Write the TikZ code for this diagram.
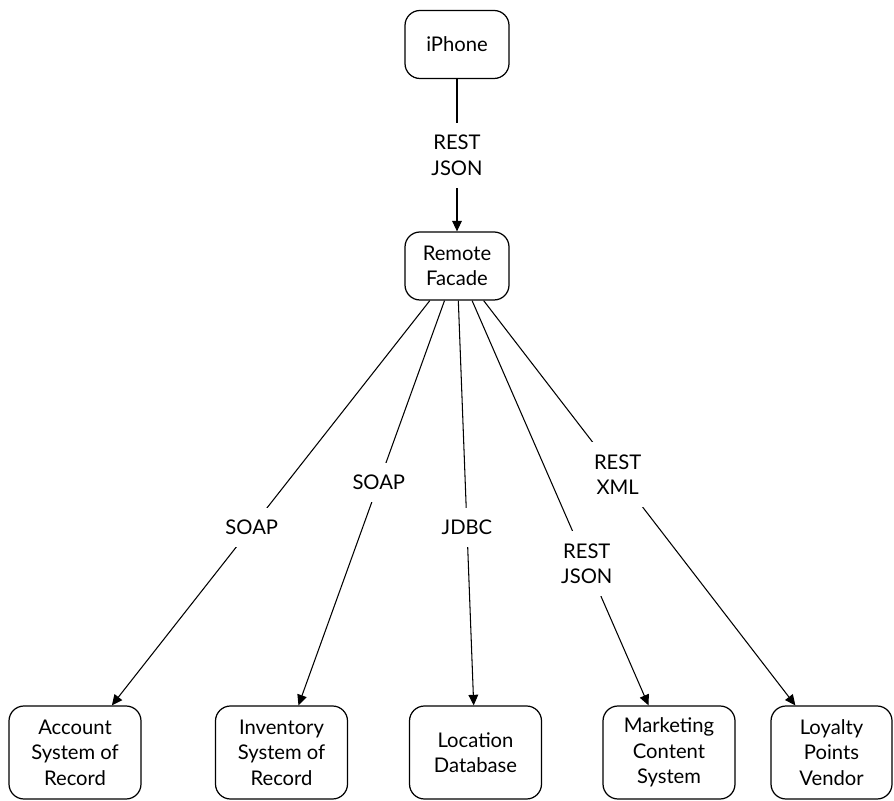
\documentclass[tikz,border=0pt]{standalone}
\usepackage{fontspec}
\setmainfont{Lato}
\usepackage{tikz}
\usetikzlibrary{shapes,arrows,positioning,calc,arrows.meta}

\tikzset{
    sysbox/.style={draw, line width=0.7pt, rounded corners=0.3cm, align=center,
        inner sep=0pt, minimum width=2.64cm, minimum height=1.86cm},
    topbox/.style={sysbox, minimum width=2.08cm, minimum height=1.36cm},
    proto/.style={fill=white, inner xsep=2pt, inner ysep=7pt, align=center},
    link/.style={line width=0.6pt, -{Triangle[length=6pt, width=5.5pt]}}
}

\begin{document}
\begin{tikzpicture}[scale=1.0, font=\fontsize{11.5}{14.5}\selectfont]
    \useasboundingbox (0,0) rectangle (17.88,16);

    % Client and facade
    \node[topbox] (iphone) at (9.14,15.11) {iPhone};
    \node[topbox] (facade) at (9.14,10.68) {Remote\\Facade};

    % Back-end systems
    \node[sysbox] (account) at (1.50,0.95) {Account\\System of\\Record};
    \node[sysbox] (inventory) at (5.63,0.95) {Inventory\\System of\\Record};
    \node[sysbox] (location) at (9.51,0.95) {Location\\Database};
    \node[sysbox] (marketing) at (13.38,0.95) {Marketing\\Content\\System};
    \node[sysbox, minimum width=2.42cm] (loyalty) at (16.63,0.95) {Loyalty\\Points\\Vendor};

    % Connections
    \draw[link] (iphone) -- node[proto] {REST\\JSON} (facade);
    \draw[link] (facade) -- node[proto, pos=0.56] {SOAP} (account);
    \draw[link] (facade) -- node[proto, pos=0.45] {SOAP} (inventory);
    \draw[link] (facade) -- node[proto, pos=0.56] {JDBC} (location);
    \draw[link] (facade) -- node[proto, pos=0.65] {REST\\JSON} (marketing);
    \draw[link] (facade) -- node[proto, pos=0.43] {REST\\XML} (loyalty);
\end{tikzpicture}
\end{document}
